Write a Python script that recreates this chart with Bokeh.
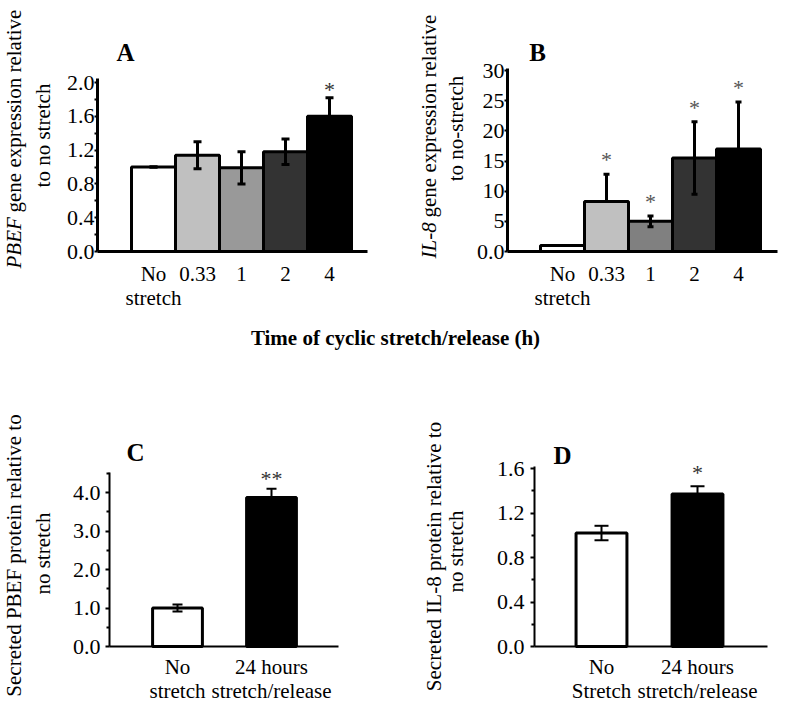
import math
from bokeh.plotting import figure
from bokeh.models import (ColumnDataSource, Range1d, FixedTicker, Whisker, TeeHead,
                          Label, LabelSet)
from bokeh.layouts import column, row
from bokeh.embed import file_html
from bokeh.resources import INLINE

FONT = "Liberation Serif"

# ---------------- data ----------------
a_labels = ["No\nstretch", "0.33", "1", "2", "4"]
a_means = [1.00, 1.14, 0.99, 1.18, 1.60]
a_err_up = [0.0, 0.16, 0.19, 0.15, 0.22]
a_err_down = [0.0, 0.16, 0.19, 0.15, 0.22]
a_sig = ["", "", "", "", "*"]
a_colors = ["#ffffff", "#c0c0c0", "#999999", "#333333", "#000000"]
a_yticks = [0.0, 0.4, 0.8, 1.2, 1.6, 2.0]
a_yminor = [0.2, 0.6, 1.0, 1.4, 1.8]

b_labels = ["No\nstretch", "0.33", "1", "2", "4"]
b_means = [1.0, 8.3, 5.0, 15.5, 17.0]
b_err_up = [0.0, 4.5, 0.9, 6.0, 7.8]
b_err_down = [0.0, 0.0, 0.9, 6.0, 7.8]
b_sig = ["", "*", "*", "*", "*"]
b_colors = ["#ffffff", "#c0c0c0", "#808080", "#333333", "#000000"]
b_yticks = [0, 5, 10, 15, 20, 25, 30]
b_ytick_labels = ["0.0", "5", "10", "15", "20", "25", "30"]

c_labels = ["No\nstretch", "24 hours\nstretch/release"]
c_means = [1.0, 3.87]
c_err = [0.09, 0.23]
c_sig = ["", "**"]
c_colors = ["#ffffff", "#000000"]
c_yticks = [0.0, 1.0, 2.0, 3.0, 4.0]
c_yminor = [0.5, 1.5, 2.5, 3.5, 4.5]

d_labels = ["No\nStretch", "24 hours\nstretch/release"]
d_means = [1.02, 1.37]
d_err = [0.065, 0.07]
d_sig = ["", "*"]
d_colors = ["#ffffff", "#000000"]
d_yticks = [0.0, 0.4, 0.8, 1.2, 1.6]
d_yminor = [0.2, 0.6, 1.0, 1.4]


def make_panel(labels, means, err_up, err_down, sig, colors, yticks, ytick_labels, yminor,
               fig_w, fig_h, x0_px, x_ppu, y0_px, y_ppu, axis_left_px, axis_right_px,
               axis_top, bar_width, head_size, err_lw, axis_lw, star_color, star_off,
               ylab_standoff, tick_out, xlab_standoff):
    # frame covers the whole figure; the axes sit at fixed locations inside it
    x_start = -x0_px / x_ppu
    x_end = (fig_w - x0_px) / x_ppu
    y_start = -(fig_h - y0_px) / y_ppu
    y_end = y0_px / y_ppu
    p = figure(width=fig_w, height=fig_h, x_range=Range1d(x_start, x_end),
               y_range=Range1d(y_start, y_end),
               toolbar_location=None, output_backend="svg", min_border=0)
    p.outline_line_color = None
    p.grid.visible = False
    xs = list(range(len(means)))
    src = ColumnDataSource(dict(
        x=xs, top=means, color=colors,
        upper=[m + e for m, e in zip(means, err_up)],
        lower=[m - e for m, e in zip(means, err_down)],
        sig=sig,
    ))
    p.vbar(x="x", top="top", bottom=0, width=bar_width, source=src, fill_color="color",
           line_color="black", line_width=3)
    w = Whisker(base="x", upper="upper", lower="lower", source=src, level="overlay",
                line_width=err_lw, line_color="black",
                upper_head=TeeHead(size=head_size, line_width=err_lw, line_color="black"),
                lower_head=TeeHead(size=head_size, line_width=err_lw, line_color="black"))
    p.add_layout(w)
    stars = LabelSet(x="x", y="upper", text="sig", source=src, text_align="center",
                     text_baseline="alphabetic", y_offset=star_off, text_font=FONT,
                     text_font_size="22px", text_color=star_color)
    p.add_layout(stars)

    ax_left = (axis_left_px - x0_px) / x_ppu
    ax_right = (axis_right_px - x0_px) / x_ppu
    # x axis
    xa = p.xaxis[0]
    xa.fixed_location = 0
    xa.bounds = (ax_left, ax_right)
    xa.ticker = FixedTicker(ticks=xs)
    xa.major_label_overrides = {i: l for i, l in zip(xs, labels)}
    xa.major_tick_line_color = None
    xa.major_tick_out = 0
    xa.major_tick_in = 0
    xa.minor_tick_line_color = None
    xa.minor_tick_out = 0
    xa.axis_line_width = axis_lw
    xa.major_label_text_font = FONT
    xa.major_label_text_font_size = "21px"
    xa.major_label_text_line_height = 1.0
    xa.major_label_text_color = "black"
    xa.major_label_standoff = xlab_standoff
    # y axis
    ya = p.yaxis[0]
    ya.fixed_location = ax_left
    ya.bounds = (0, axis_top)
    ya.ticker = FixedTicker(ticks=yticks, minor_ticks=yminor)
    ya.major_label_overrides = {t: l for t, l in zip(yticks, ytick_labels)}
    ya.axis_line_width = axis_lw
    ya.major_tick_in = 0
    ya.major_tick_out = tick_out
    ya.minor_tick_in = 0
    ya.minor_tick_out = 3
    ya.major_tick_line_width = 2
    ya.minor_tick_line_width = 2
    ya.major_label_standoff = ylab_standoff
    ya.major_label_text_font = FONT
    ya.major_label_text_font_size = "22px"
    ya.major_label_text_color = "black"
    return p


def lab(p, x, y, text, align="center", style="normal", size="21px", angle=math.pi / 2,
        baseline="middle"):
    p.add_layout(Label(x=x, y=y, x_units="screen", y_units="screen", text=text,
                       angle=angle, text_align=align, text_baseline=baseline,
                       text_font=FONT, text_font_size=size, text_font_style=style,
                       text_color="black"))


TOP_H = 310
MID_H = 40
BOT_H = 358

# Panel A
pa = make_panel(a_labels, a_means, a_err_up, a_err_down, a_sig, a_colors, a_yticks,
                ["%.1f" % t for t in a_yticks], a_yminor,
                400, TOP_H, 153, 44, 251, 84.5, 97, 367, 2.05, 1.0, 8, 3, 3,
                "#333333", 1, 0, 3, 10)
lab(pa, 13, 42, "PBEF", align="left", style="italic")
lab(pa, 13, 98, "gene expression relative", align="left")
lab(pa, 42, 175, "to no stretch")
lab(pa, 125, 258, "A", style="bold", size="25px", angle=0)

# Panel B
pb = make_panel(b_labels, b_means, b_err_up, b_err_down, b_sig, b_colors, b_yticks,
                b_ytick_labels, [],
                400, TOP_H, 162, 44, 251, 6.03, 107, 377, 30.3, 1.0, 6, 3, 3,
                "#555555", 7, 0, 3, 10)
lab(pb, 28, 52, "IL-8", align="left", style="italic")
lab(pb, 28, 93, "gene expression relative", align="left")
lab(pb, 55, 182, "to no-stretch")
lab(pb, 137, 258, "B", style="bold", size="25px", angle=0)

# Middle label
pm = figure(width=800, height=MID_H, x_range=(0, 1), y_range=(0, 1),
            toolbar_location=None, output_backend="svg", x_axis_type=None,
            y_axis_type=None, min_border=0)
pm.outline_line_color = None
pm.grid.visible = False
lab(pm, 395, 13, "Time of cyclic stretch/release (h)", style="bold", angle=0)

# Panel C
pc = make_panel(c_labels, c_means, c_err, c_err, c_sig, c_colors, c_yticks,
                ["%.1f" % t for t in c_yticks], c_yminor,
                400, BOT_H, 177, 94, 296, 38.5, 109, 338, 4.52, 0.53, 10, 2, 2,
                "#333333", 3, 5, 4, 8)
lab(pc, 13, 153, "Secreted PBEF protein relative to")
lab(pc, 42, 155, "no stretch")
lab(pc, 135, 256, "C", style="bold", size="25px", angle=0)

# Panel D
pd_ = make_panel(d_labels, d_means, d_err, d_err, d_sig, d_colors, d_yticks,
                 ["%.1f" % t for t in d_yticks], d_yminor,
                 400, BOT_H, 201, 96, 296, 111.25, 134, 367, 1.62, 0.53, 14, 2, 2,
                 "#333333", 6, 6, 4, 8)
lab(pd_, 33, 152, "Secreted IL-8 protein relative to")
lab(pd_, 55, 157, "no stretch")
lab(pd_, 162, 253, "D", style="bold", size="25px", angle=0)

layout = column(row(pa, pb), pm, row(pc, pd_))
open("out.html", "w").write(file_html(layout, INLINE))
